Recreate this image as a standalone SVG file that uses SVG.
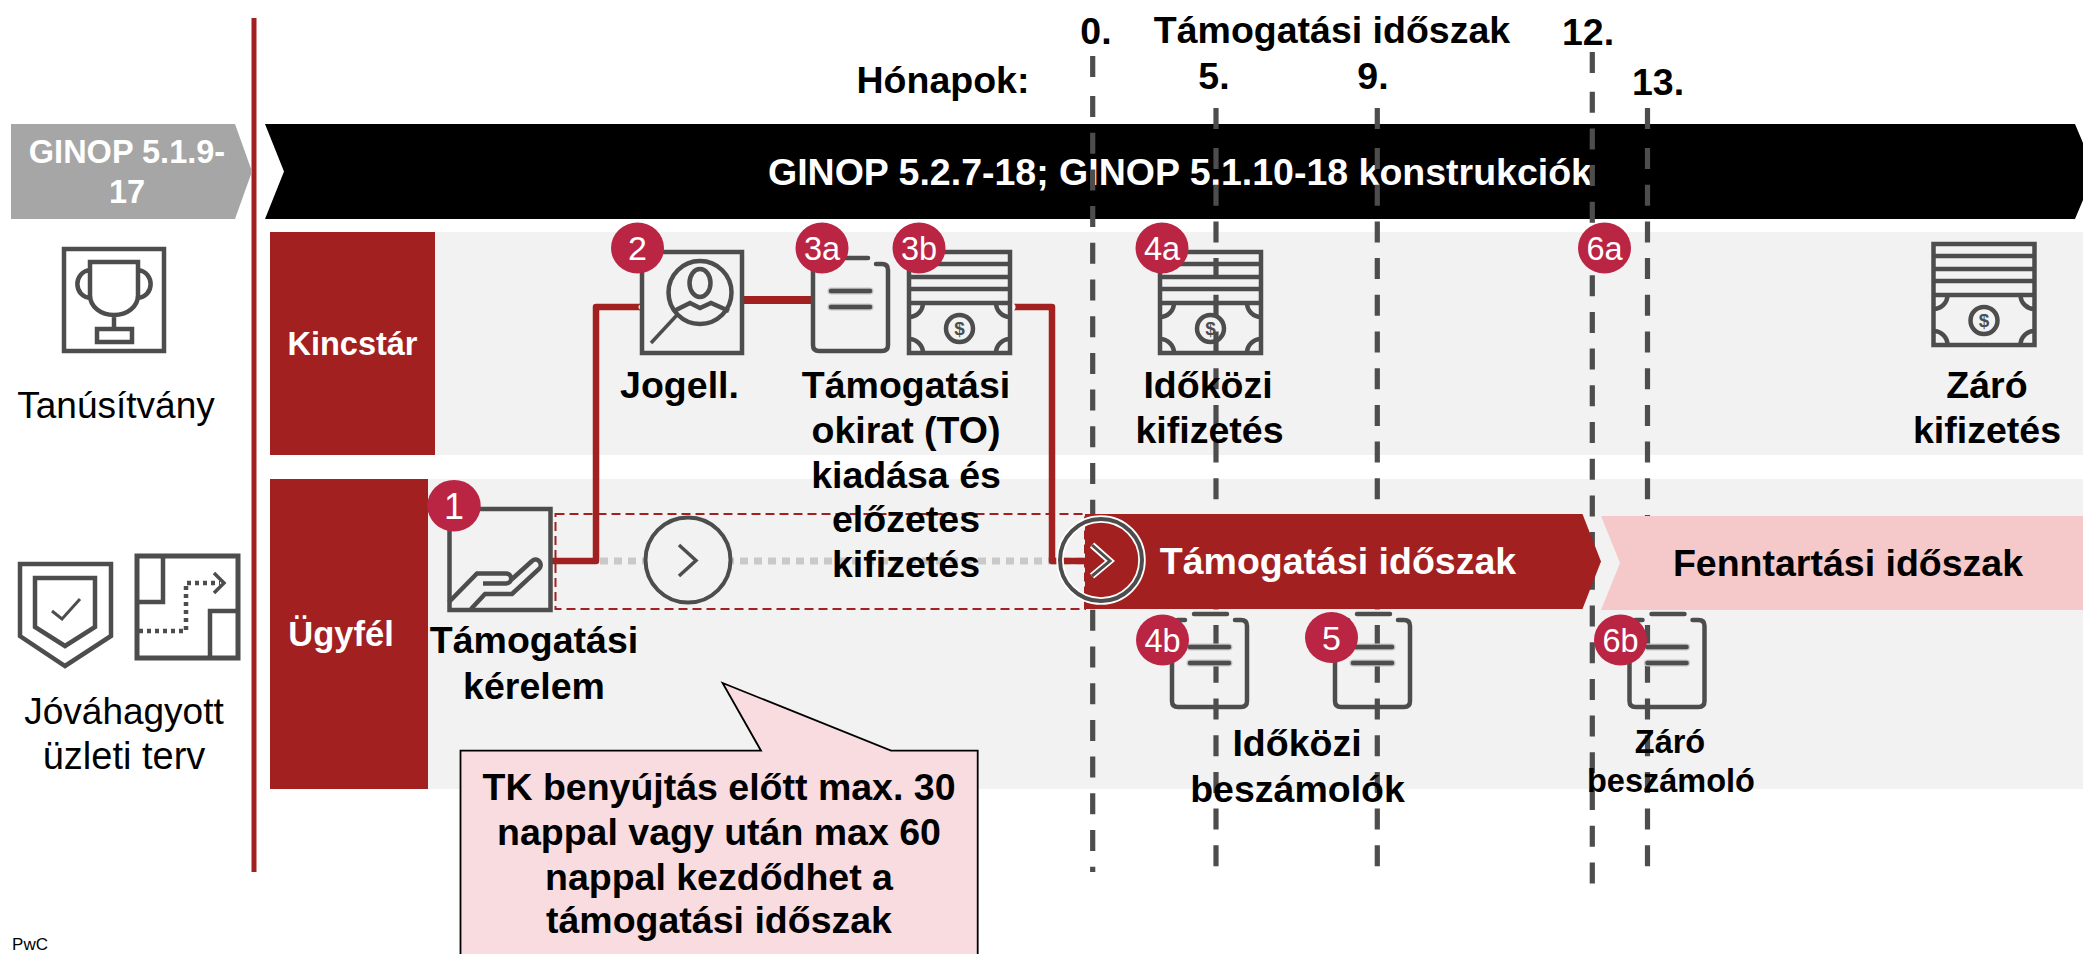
<svg xmlns="http://www.w3.org/2000/svg" xmlns:xlink="http://www.w3.org/1999/xlink" width="2083" height="954" viewBox="0 0 2083 954">
<style>
text{font-family:"Liberation Sans",Arial,Helvetica,sans-serif;text-anchor:middle;fill:#000}
.b{font-weight:700;font-size:37.500px}
.r{font-size:37px}
.w{font-weight:700;fill:#fff}
.n{font-size:32.500px;fill:#fff}
.ic{fill:none;stroke:#4d4d4d;stroke-width:4.500}
.bd{fill:#bb2544}
.dash{fill:none;stroke:#4d4d4d;stroke-width:5.200;stroke-dasharray:21 15.700}
.wire{fill:none;stroke:#a32020;stroke-width:6.500;stroke-linejoin:round}
</style>
<defs>
<g id="bill">
<path class="ic" d="M909 252H1010V353H909ZM909 264H1010M909 277H1010M909 289H1010M909 303H1010"/>
<path class="ic" d="M909 317a14 14 0 0 0 14-14M996 303a14 14 0 0 0 14 14M909 339a14 14 0 0 1 14 14M996 353a14 14 0 0 1 14-14"/>
<circle class="ic" cx="959.500" cy="328.500" r="13.500"/>
<text x="959.500" y="335" style="font-size:19px;font-weight:700;fill:#4d4d4d">$</text>
</g>
<g id="doc">
<path class="ic" stroke-linecap="round" d="M826 264H819q-6 0-6 6V345q0 6 6 6H882q6 0 6-6V270q0-6-6-6H876M835 258H868"/>
<path class="ic" stroke-linecap="round" style="stroke:#c4c4c4;stroke-width:7" d="M831 291H870M831 307H870"/>
<path class="ic" stroke-linecap="round" d="M831 291H870M831 307H870"/>
</g>
</defs>

<g id="swimlane-bg">
<rect x="435" y="232" width="1648" height="223" fill="#f2f2f2"/>
<rect x="428" y="479" width="1655" height="310" fill="#f2f2f2"/>
</g>

<g id="divider"><path d="M254 18V872" stroke="#a32020" stroke-width="5" fill="none"/></g>

<g id="chevron-prev">
<path d="M11 124H235L252 171.500L235 219H11Z" fill="#a6a6a6"/>
<text class="w" x="127" y="163" style="font-size:32.500px">GINOP 5.1.9-</text>
<text class="w" x="127" y="203" style="font-size:32.500px">17</text>
</g>

<g id="chevron-main">
<path d="M265 124H2075L2095 171.500L2075 219H265L284 171.500Z" fill="#000"/>
<text class="w" x="1180" y="185" style="font-size:37.500px">GINOP 5.2.7-18; GINOP 5.1.10-18 konstrukciók</text>
</g>

<g id="lane-kincstar">
<rect x="270" y="232" width="165" height="223" fill="#a32020"/>
<text class="w" x="352.500" y="355" style="font-size:32.500px">Kincstár</text>
</g>
<g id="lane-ugyfel">
<rect x="270" y="479" width="158" height="310" fill="#a32020"/>
<text class="w" x="341" y="646" style="font-size:34.500px">Ügyfél</text>
</g>

<g id="timeline-lines">
<path class="dash" d="M1092.700 56V79M1092.700 96V872"/>
<path class="dash" d="M1216 108V131M1216 148V868"/>
<path class="dash" d="M1377.300 108V131M1377.300 148V868"/>
<path class="dash" d="M1592.300 52V75.500M1592.300 91.700V885"/>
<path class="dash" d="M1647.500 108V131M1647.500 148V868"/>
</g>

<g id="timeline-labels">
<text class="b" x="1096" y="44">0.</text>
<text class="b" x="1332" y="43">Támogatási időszak</text>
<text class="b" x="1588" y="45">12.</text>
<text class="b" x="943" y="93">Hónapok:</text>
<text class="b" x="1214" y="89">5.</text>
<text class="b" x="1373" y="89">9.</text>
<text class="b" x="1658" y="95">13.</text>
</g>

<g id="connectors">
<path d="M600 561H1090" fill="none" stroke="#c9c9c9" stroke-width="7" stroke-dasharray="8 6"/>
<path d="M555.500 514H1085V609H555.500Z" fill="none" stroke="#a32020" stroke-width="2" stroke-dasharray="9 5"/>
<path class="wire" d="M552 561H596V307H640"/>
<path class="wire" style="stroke-width:8" d="M743 300H812"/>
<path class="wire" d="M1014 307H1052V561H1086"/>
<circle cx="1012" cy="307" r="3.500" fill="#fff"/>
<circle cx="641" cy="307" r="2.500" fill="#fff"/>
</g>

<g id="phase-tamogatasi">
<path d="M1085 514H1582.500L1601 561.500L1582.500 609H1085Z" fill="#a32020"/>
<text class="w" x="1338" y="574" style="font-size:37.500px">Támogatási időszak</text>
</g>
<g id="phase-fenntartasi">
<path d="M1601 516H2090V610H1601L1620 563Z" fill="#f5c9c9"/>
<text class="b" x="1848" y="576">Fenntartási időszak</text>
</g>

<g id="milestone-open">
<circle cx="688" cy="560" r="42.500" fill="#f2f2f2" stroke="#4d4d4d" stroke-width="4"/>
<path d="M679 545L696 560.500L679 576" fill="none" stroke="#4d4d4d" stroke-width="3.500"/>
</g>
<g id="milestone-start">
<circle cx="1101" cy="560" r="41" fill="none" stroke="#fff" stroke-width="7.500"/>
<circle cx="1101" cy="560" r="41" fill="none" stroke="#4d4d4d" stroke-width="4"/>
<path d="M1092 545L1110 561L1092 576" fill="none" stroke="#fff" stroke-width="6.500"/>
<path d="M1092 545L1110 561L1092 576" fill="none" stroke="#4d4d4d" stroke-width="3"/>
</g>

<g id="node-tanusitvany">
<rect class="ic" x="64" y="249" width="100" height="102"/>
<path class="ic" d="M90 262H138V295C138 307 127 315 114 315S90 307 90 295ZM90 270C73 272 73 297 91 298M138 270C155 272 155 297 137 298M114 315V329M97 329H132V342H97Z"/>
<text class="r" x="116" y="418">Tanúsítvány</text>
</g>

<g id="node-uzleti-terv">
<path class="ic" d="M20 564H111V636L65 666L20 636Z"/>
<path class="ic" d="M35 578H95V627L65 646L35 627Z"/>
<path class="ic" style="stroke-width:3" d="M52 611L62 619L80 599"/>
<rect class="ic" style="stroke-width:5" x="137" y="556" width="101" height="102"/>
<path class="ic" d="M163 556V602H137M238 611H210V658"/>
<path class="ic" stroke-dasharray="4 4" d="M139 631H186V583H220"/>
<path class="ic" style="stroke-width:3.500" d="M214 573L224 583L214 593"/>
<text class="r" x="124" y="724">Jóváhagyott</text>
<text class="r" style="font-size:38px" x="124" y="769">üzleti terv</text>
</g>

<g id="node-1">
<rect class="ic" x="449.500" y="509" width="101" height="101"/>
<path class="ic" d="M449 602L477 573.500H506C513 574 513 583 506 583.500H483M511 580L532 561C537 556 544 564 539 569L512 594H485L471 609"/>
<ellipse class="bd" cx="454" cy="505.700" rx="26.700" ry="25.800"/>
<text class="n" style="font-size:36px" x="454" y="519">1</text>
<text class="b" x="534" y="653">Támogatási</text>
<text class="b" x="534" y="699">kérelem</text>
</g>

<g id="node-2">
<rect class="ic" x="642" y="252" width="100" height="101"/>
<circle class="ic" cx="700" cy="292.500" r="31.500"/>
<ellipse class="ic" cx="700" cy="283" rx="10.500" ry="14"/>
<path class="ic" d="M674 311L690 303L700 308L711 303L729 311"/>
<path class="ic" style="stroke-width:3.500" d="M677 315L651 343"/>
<ellipse class="bd" cx="637.500" cy="248" rx="26.500" ry="25.500"/>
<text class="n" style="font-size:34px" x="637.500" y="260">2</text>
<text class="b" x="679.500" y="398">Jogell.</text>
</g>

<g id="node-3a">
<use xlink:href="#doc"/>
<ellipse class="bd" cx="822" cy="248" rx="26.500" ry="25.500"/>
<text class="n" x="822" y="260">3a</text>
</g>
<g id="node-3b">
<use xlink:href="#bill"/>
<ellipse class="bd" cx="919" cy="248" rx="26.500" ry="25.500"/>
<text class="n" x="919" y="260">3b</text>
<text class="b" x="906" y="398">Támogatási</text>
<text class="b" x="906" y="443">okirat (TO)</text>
<text class="b" x="906" y="488">kiadása és</text>
<text class="b" x="906" y="532">előzetes</text>
<text class="b" x="906" y="577">kifizetés</text>
</g>

<g id="node-4a">
<use xlink:href="#bill" x="251"/>
<ellipse class="bd" cx="1162" cy="248" rx="26.500" ry="25.500"/>
<text class="n" x="1162" y="260">4a</text>
<text class="b" x="1208" y="398">Időközi</text>
<text class="b" x="1209.500" y="443">kifizetés</text>
</g>

<g id="node-4b">
<use xlink:href="#doc" x="359" y="356"/>
<ellipse class="bd" cx="1162.500" cy="640" rx="26.500" ry="25.500"/>
<text class="n" x="1162.500" y="652">4b</text>
</g>
<g id="node-5">
<use xlink:href="#doc" x="522" y="356"/>
<ellipse class="bd" cx="1331.500" cy="637.500" rx="26.500" ry="25.500"/>
<text class="n" style="font-size:34px" x="1331.500" y="650">5</text>
<text class="b" x="1297" y="756">Időközi</text>
<text class="b" x="1297.500" y="802">beszámolók</text>
</g>

<g id="node-6a">
<ellipse class="bd" cx="1604.500" cy="248" rx="26.500" ry="25.500"/>
<text class="n" x="1604.500" y="260">6a</text>
</g>
<g id="node-6b">
<use xlink:href="#doc" x="816.500" y="356"/>
<ellipse class="bd" cx="1620.500" cy="640" rx="26.500" ry="25.500"/>
<text class="n" x="1620.500" y="652">6b</text>
<text class="b" x="1670" y="753" style="font-size:32.500px">Záró</text>
<text class="b" x="1671" y="792" style="font-size:32.500px">beszámoló</text>
</g>

<g id="node-zaro-kifizetes">
<use xlink:href="#bill" x="1024.500" y="-8"/>
<text class="b" x="1987" y="398">Záró</text>
<text class="b" x="1987" y="443">kifizetés</text>
</g>

<g id="callout">
<path d="M460.500 962V750.700H761L722.600 683L891 750.700H977.700V962Z" fill="#f8dce0" stroke="#000" stroke-width="1.800"/>
<text class="b" x="719" y="800">TK benyújtás előtt max. 30</text>
<text class="b" x="719" y="845">nappal vagy után max 60</text>
<text class="b" x="719" y="890">nappal kezdődhet a</text>
<text class="b" x="719" y="933">támogatási időszak</text>
</g>

<g id="footer"><text x="30" y="950" style="font-size:17px">PwC</text></g>
</svg>
